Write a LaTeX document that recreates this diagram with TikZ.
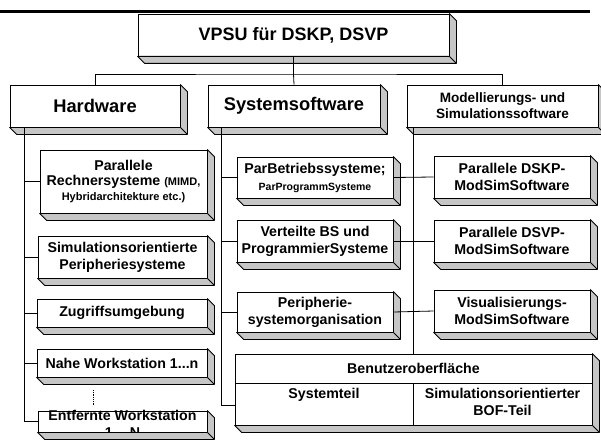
\documentclass[tikz,border=0pt]{standalone}
\usepackage{fontspec}
\setmainfont{Liberation Sans}
\usetikzlibrary{calc}
\newcommand\ftop{\fontsize{18}{21}\selectfont\bfseries}
\newcommand\flone{\fontsize{18.3}{21}\selectfont\bfseries}
\newcommand\fmod{\fontsize{13.6}{16}\selectfont\bfseries}
\newcommand\ftwo{\fontsize{14.2}{17}\selectfont\bfseries}
\newcommand\ftwotight{\fontsize{14.2}{15}\selectfont\bfseries}
\newcommand\fsmall{\fontsize{11}{15}\selectfont\bfseries}
\newcommand\fsmaller{\fontsize{10.5}{14}\selectfont\bfseries}
\tikzset{
  fbox/.style={draw, fill=white, line width=0.8pt, inner sep=0pt, align=center},
  conn/.style={line width=0.8pt},
  shd/.style={fill=gray!45, draw, line width=0.8pt, line join=round},
  txt/.style={inner sep=0pt, align=center},
}
\newcommand\boxshadow[1]{%
  \filldraw[shd] (#1.south west) -- ++(7,7) -- ($(#1.south east)+(7,7)$) -- ($(#1.north east)+(7,7)$) -- (#1.north east) -- (#1.south east) -- cycle;
  \draw[shd] (#1.south east) -- ++(7,7);}
\begin{document}
\begin{tikzpicture}[x=1pt,y=-1pt]
\useasboundingbox[fill=white] (0,0) rectangle (601,441);
% heavy rule
\draw[line width=3pt] (0,12) -- (590,12);

% level 0
\node[fbox, minimum width=311, minimum height=42, font=\ftop] (top) at (293.5,35) {VPSU für DSKP, DSVP};
% level 1
\node[fbox, minimum width=170, minimum height=42, font=\flone] (hw) at (95,106) {Hardware};
\node[fbox, minimum width=172, minimum height=42, font=\flone] (ss) at (294,106) {Systemsoftware};
\node[fbox, minimum width=191, minimum height=42, font=\fmod] (ms) at (502.5,106) {Modellierungs- und\\Simulationssoftware};

% hardware children
\node[fbox, minimum width=167, minimum height=63, font=\ftwotight] (h1) at (123.5,181.5) {Parallele\\Rechnersysteme {\fsmall(MIMD,}\\{\fsmall Hybridarchitekture etc.)}};
\node[fbox, minimum width=169, minimum height=42, font=\ftwo] (h2) at (122.5,257) {Simulationsorientierte\\Peripheriesysteme};
\node[fbox, minimum width=170, minimum height=28, font=\ftwo] (h3) at (122,313) {Zugriffsumgebung};
\node[fbox, minimum width=170, minimum height=28, font=\ftwo] (h4) at (122,363) {Nahe Workstation 1...n};
\node[fbox, minimum width=169, minimum height=21] (h5) at (122.5,421.5) {};
\node[txt, font=\ftwo] (h5t) at (122.5,424) {Entfernte Workstation\\1... N};

% systemsoftware children
\node[fbox, minimum width=156, minimum height=41, font=\ftwo] (s1) at (315,177.5) {ParBetriebssysteme;\\{\fsmaller ParProgrammSysteme}};
\node[fbox, minimum width=156, minimum height=42, font=\ftwo] (s2) at (315,241) {Verteilte BS und\\ProgrammierSysteme};
\node[fbox, minimum width=156, minimum height=40, font=\ftwo] (s3) at (315,312) {Peripherie-\\systemorganisation};

% modsim children
\node[fbox, minimum width=156, minimum height=42, font=\ftwo] (m1) at (512,177) {Parallele DSKP-\\ModSimSoftware};
\node[fbox, minimum width=156, minimum height=42, font=\ftwo] (m2) at (512,241) {Parallele DSVP-\\ModSimSoftware};
\node[fbox, minimum width=156, minimum height=42, font=\ftwo] (m3) at (512,311) {Visualisierungs-\\ModSimSoftware};

% Benutzeroberflaeche
\node[fbox, minimum width=357, minimum height=71] (bof) at (413.5,389.5) {};
\draw[conn] (235,383) coordinate (bl) -- (592,383) coordinate (br);
\draw[conn] (413,383) coordinate (bm) -- (413,425) coordinate (bb);
\node[txt, font=\ftwo] (bt) at (413.5,368.5) {Benutzeroberfläche};
\node[txt, font=\ftwo, anchor=north] (b1) at (324,388) {Systemteil};
\node[txt, font=\ftwo, anchor=north] (b2) at (502.5,388) {Simulationsorientierter\\BOF-Teil};

% shadows
\foreach \n in {top,hw,ss,ms,h1,h2,h3,h4,h5,s1,s2,s3,m1,m2,m3,bof} {\boxshadow{\n}}

% connectors
\coordinate (jn) at (293.5,74);
\draw[conn] (top.south) -- (jn);
\draw[conn] (hw.north) |- (jn) -| (ms.north);
\draw[conn] (jn) -- (ss.north);

\coordinate (hwx) at ($(hw.south west)+(15,0)$);
\draw[conn] (hwx) |- (h5.west);
\foreach \n in {h1,h2,h3,h4} {\draw[conn] (\n.west) -- (\n.west -| hwx);}
\draw[conn, densely dotted, line width=0.5pt] (93,390) coordinate (d1) -- (93,405) coordinate (d2);

\coordinate (ssx) at ($(ss.south west)+(14,0)$);
\draw[conn] (ssx) |- ([yshift=-15.5pt]bof.west);
\foreach \n in {s1,s2,s3} {\draw[conn] (\n.west) -- (\n.west -| ssx);}
\draw[conn] (s1.east) -- (m1.west);
\draw[conn] (s2.east) -- (m2.west);
\draw[conn] (s3.east) -- (m3.west);

\draw[conn] (ms.south -| bof.north) -- (bof.north);
\end{tikzpicture}
\end{document}
